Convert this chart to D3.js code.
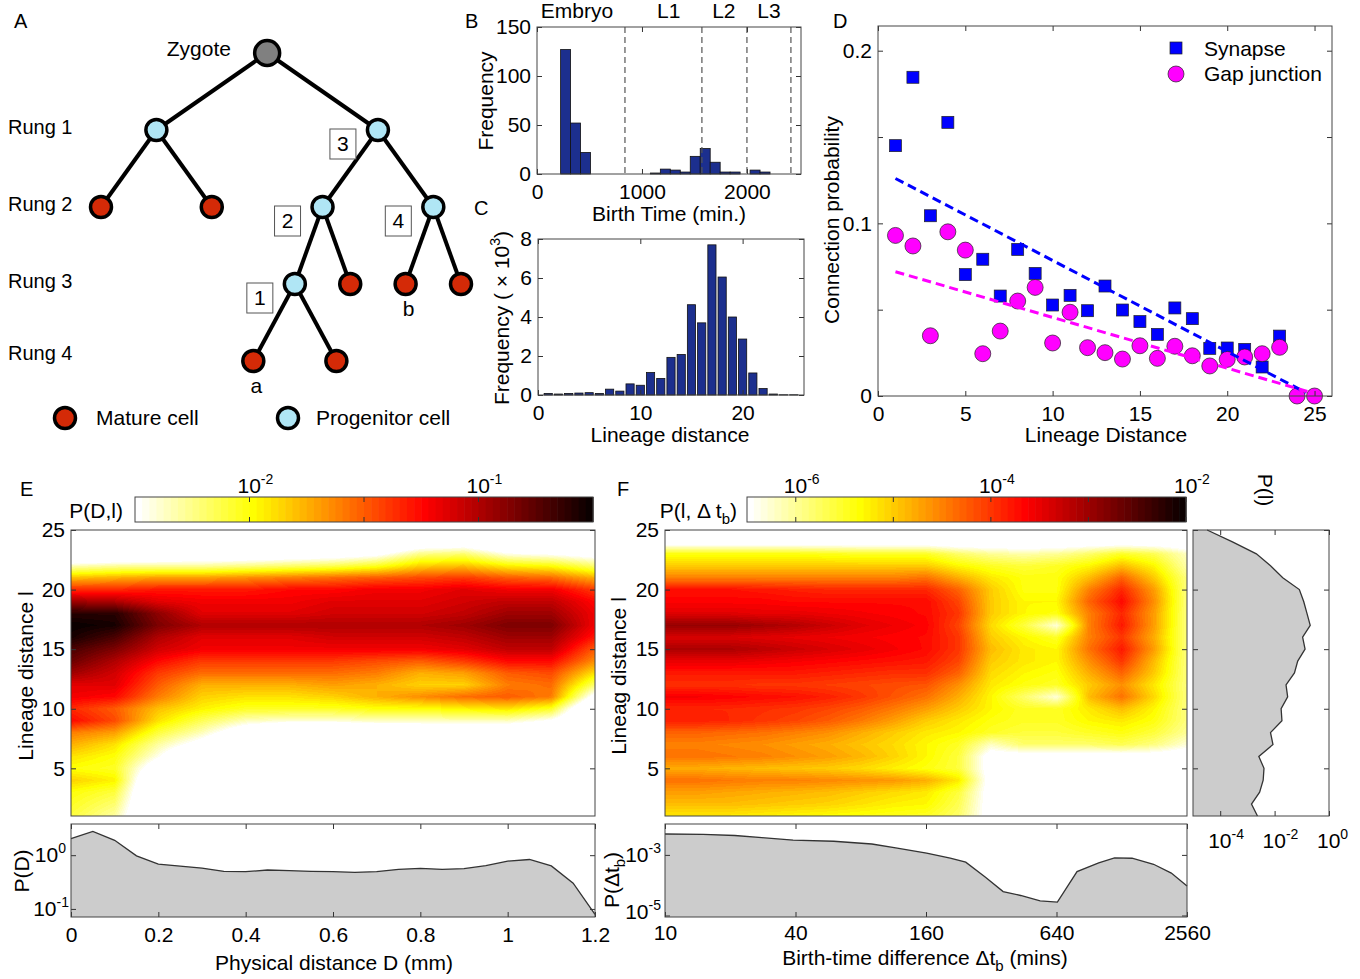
<!DOCTYPE html>
<html>
<head>
<meta charset="utf-8">
<title>Lineage distance and neural connectivity</title>
<script src="https://cdn.jsdelivr.net/npm/d3@7"></script>
<style>
  html, body { margin: 0; padding: 0; background: #fff; }
  svg { display: block; font-family: "Liberation Sans", Arial, Helvetica, sans-serif; }
  text { fill: #000; }
</style>
</head>
<body>
<svg id="fig" width="1360" height="979"></svg>
<script>
// ================= Data =================

// A: lineage tree. Leaves carry a horizontal slot; parents sit midway between children.
const lineageTree = { kind: "zygote", children: [
  { kind: "progenitor", children: [ { kind: "mature", slot: 0 }, { kind: "mature", slot: 2 } ] },
  { kind: "progenitor", step: "3", children: [
    { kind: "progenitor", step: "2", children: [
      { kind: "progenitor", step: "1", children: [ { kind: "mature", slot: 2.75, tag: "a" }, { kind: "mature", slot: 4.25 } ] },
      { kind: "mature", slot: 4.5 } ] },
    { kind: "progenitor", step: "4", children: [ { kind: "mature", slot: 5.5, tag: "b" }, { kind: "mature", slot: 6.5 } ] }
  ] }
] };
const rungLabels = ["Rung 1", "Rung 2", "Rung 3", "Rung 4"];
const cellKinds = ["mature", "progenitor"];
const cellKindLabels = ["Mature cell", "Progenitor cell"];

// B: birth-time histogram (min.)
const birthBinStart = [225, 320, 415, 510, 605, 700, 795, 890, 985, 1080, 1175, 1270, 1365, 1460, 1555, 1650, 1745, 1840, 1935, 2030, 2125];
const birthBinWidth = 95;
const birthCounts = [127, 52, 22, 0, 0, 0, 0, 0, 0, 1, 5, 4, 2, 18, 26, 12, 2, 2, 0, 4, 2];
const stageBounds = [838, 1571, 2000, 2419];
const stageNames = ["Embryo", "L1", "L2", "L3"];
const stageLabelAt = [380, 1255, 1780, 2210];

// C: lineage-distance histogram (thousands of pairs)
const lineageDist = [1, 2, 3, 4, 5, 6, 7, 8, 9, 10, 11, 12, 13, 14, 15, 16, 17, 18, 19, 20, 21, 22, 23, 24, 25];
const lineageFreqK = [0.08, 0.05, 0.08, 0.1, 0.12, 0.08, 0.3, 0.2, 0.57, 0.5, 1.15, 0.85, 1.93, 2.08, 4.63, 3.7, 7.7, 6.05, 4.0, 2.87, 1.13, 0.33, 0.05, 0.01, 0.01];

// D: connection probability vs lineage distance
const synapseDist = [1, 2, 3, 4, 5, 6, 7, 8, 9, 10, 11, 12, 13, 14, 15, 16, 17, 18, 19, 20, 21, 22, 23];
const synapseProb = [0.145, 0.1846, 0.1044, 0.1585, 0.0703, 0.0792, 0.0579, 0.0849, 0.071, 0.0527, 0.0583, 0.0494, 0.0637, 0.0498, 0.0431, 0.0357, 0.051, 0.0448, 0.0276, 0.0278, 0.027, 0.0168, 0.0347];
const gapDist = [1, 2, 3, 4, 5, 6, 7, 8, 9, 10, 11, 12, 13, 14, 15, 16, 17, 18, 19, 20, 21, 22, 23, 24, 25];
const gapProb = [0.093, 0.0869, 0.0349, 0.0951, 0.0845, 0.0245, 0.0376, 0.055, 0.0629, 0.0307, 0.0485, 0.028, 0.0251, 0.0214, 0.0291, 0.0218, 0.0288, 0.0233, 0.0174, 0.0212, 0.0226, 0.0245, 0.0282, 0, 0];
const synapseFit = [[1, 0.126], [24.5, 0.002]];
const gapFit = [[1, 0.072], [24.8, 0.002]];

// E: joint density P(D,l), log10 values; rows l = 25 ... 1, columns D (mm)
const physDistNodes = [0, 0.1, 0.2, 0.3, 0.4, 0.5, 0.6, 0.7, 0.8, 0.9, 1.0, 1.1, 1.2];
const lineageRowsDown = [25, 24, 23, 22, 21, 20, 19, 18, 17, 16, 15, 14, 13, 12, 11, 10, 9, 8, 7, 6, 5, 4, 3, 2, 1];
const pDlLog10 = [
  [-3, -3, -3, -3, -3, -3, -3, -3, -3, -3, -3, -3, -3],
  [-3, -3, -3, -3, -3, -3, -3, -2.95, -2.75, -2.7, -2.9, -3, -3],
  [-3, -2.9, -2.8, -2.75, -2.75, -2.7, -2.65, -2.55, -2.25, -2.2, -2.45, -2.5, -2.6],
  [-2.35, -2.3, -2.3, -2.3, -2.25, -2.2, -2.15, -2.05, -1.85, -1.8, -1.95, -2.0, -2.2],
  [-1.8, -1.75, -1.7, -1.7, -1.65, -1.6, -1.55, -1.5, -1.45, -1.4, -1.5, -1.55, -1.75],
  [-1.35, -1.35, -1.3, -1.3, -1.3, -1.25, -1.25, -1.2, -1.2, -1.15, -1.2, -1.2, -1.4],
  [-0.95, -1.0, -1.15, -1.2, -1.2, -1.2, -1.15, -1.15, -1.15, -1.1, -1.05, -1.05, -1.25],
  [-0.6, -0.6, -0.9, -1.15, -1.15, -1.15, -1.1, -1.1, -1.1, -1.05, -0.95, -0.95, -1.2],
  [-0.5, -0.55, -0.85, -1.0, -1.0, -1.0, -1.0, -1.0, -1.0, -0.95, -0.85, -0.85, -1.2],
  [-0.55, -0.7, -1.0, -1.15, -1.15, -1.15, -1.1, -1.1, -1.1, -1.05, -0.95, -0.95, -1.3],
  [-0.7, -0.85, -1.1, -1.2, -1.2, -1.2, -1.2, -1.2, -1.2, -1.15, -1.05, -1.05, -1.5],
  [-0.8, -1.0, -1.25, -1.4, -1.4, -1.4, -1.4, -1.45, -1.5, -1.4, -1.25, -1.25, -1.65],
  [-0.95, -1.1, -1.4, -1.55, -1.55, -1.55, -1.55, -1.6, -1.75, -1.7, -1.5, -1.45, -1.9],
  [-1.15, -1.15, -1.5, -1.75, -1.75, -1.75, -1.7, -1.75, -1.85, -1.85, -1.6, -1.55, -2.2],
  [-1.2, -1.25, -1.6, -1.85, -1.9, -1.9, -1.85, -1.75, -1.65, -1.55, -1.5, -1.6, -2.6],
  [-1.35, -1.5, -1.8, -1.95, -2.05, -2.05, -2.05, -2.0, -2.0, -1.95, -1.9, -2.05, -3],
  [-1.25, -1.45, -1.9, -2.15, -2.35, -2.4, -2.4, -2.35, -2.35, -2.35, -2.35, -2.5, -3],
  [-1.6, -1.7, -2.1, -2.35, -2.7, -3, -3, -2.9, -2.85, -2.8, -2.8, -2.9, -3],
  [-1.75, -1.9, -2.3, -2.6, -3, -3, -3, -3, -3, -3, -3, -3, -3],
  [-1.9, -2.0, -2.45, -3, -3, -3, -3, -3, -3, -3, -3, -3, -3],
  [-2.0, -2.05, -2.7, -3, -3, -3, -3, -3, -3, -3, -3, -3, -3],
  [-1.85, -1.95, -3, -3, -3, -3, -3, -3, -3, -3, -3, -3, -3],
  [-2.0, -2.1, -3, -3, -3, -3, -3, -3, -3, -3, -3, -3, -3],
  [-2.05, -2.2, -3, -3, -3, -3, -3, -3, -3, -3, -3, -3, -3],
  [-2.1, -2.3, -3, -3, -3, -3, -3, -3, -3, -3, -3, -3, -3]
];
// E lower: marginal P(D)
const physDistSamples = [0, 0.05, 0.1, 0.15, 0.2, 0.25, 0.3, 0.35, 0.4, 0.45, 0.5, 0.55, 0.6, 0.65, 0.7, 0.75, 0.8, 0.85, 0.9, 0.95, 1.0, 1.05, 1.1, 1.15, 1.2];
const pDLog10 = [0.307, 0.442, 0.276, -0.012, -0.166, -0.202, -0.239, -0.3, -0.307, -0.276, -0.288, -0.3, -0.307, -0.319, -0.307, -0.264, -0.245, -0.264, -0.252, -0.196, -0.11, -0.08, -0.2, -0.52, -1.1];

// F: joint density P(l, dt_b), log10 values; rows l = 25 ... 1, columns birth-time difference (mins)
const dtNodes = [10, 14.1, 20, 28.3, 40, 56.6, 80, 113, 160, 226, 320, 453, 640, 905, 1280, 1810, 2560];
const pLdtLog10 = [
  [-7, -7, -7, -7, -7, -7, -7, -7, -7, -7, -7, -7, -7, -7, -7, -7, -7],
  [-6.8, -6.8, -6.8, -6.8, -6.8, -6.8, -6.8, -6.8, -6.8, -6.9, -6.9, -6.9, -6.9, -6.8, -6.8, -6.8, -6.9],
  [-5.4, -5.4, -5.4, -5.4, -5.4, -5.45, -5.5, -5.5, -5.5, -5.8, -6.0, -6.1, -6.0, -5.8, -5.5, -5.7, -6.2],
  [-5.0, -5.0, -5.0, -5.0, -5.0, -5.0, -5.0, -5.0, -5.0, -5.3, -5.5, -5.6, -5.5, -5.3, -4.9, -5.3, -6.1],
  [-4.5, -4.5, -4.5, -4.5, -4.5, -4.5, -4.5, -4.5, -4.4, -4.8, -5.2, -5.4, -5.4, -4.9, -4.3, -5.0, -5.9],
  [-3.75, -3.75, -3.75, -3.8, -3.85, -3.9, -3.9, -3.9, -3.9, -4.3, -5.0, -5.4, -5.4, -4.5, -3.9, -4.7, -5.9],
  [-3.65, -3.65, -3.65, -3.65, -3.7, -3.7, -3.7, -3.7, -3.7, -4.1, -5.0, -5.3, -5.3, -4.3, -3.7, -4.6, -5.9],
  [-3.45, -3.45, -3.45, -3.5, -3.5, -3.55, -3.6, -3.65, -3.7, -4.0, -5.0, -5.3, -5.4, -4.5, -3.9, -4.7, -5.9],
  [-2.95, -2.95, -2.95, -3.05, -3.15, -3.3, -3.45, -3.55, -3.65, -4.1, -5.1, -5.6, -6.3, -4.5, -3.8, -4.7, -5.9],
  [-3.4, -3.4, -3.4, -3.45, -3.5, -3.55, -3.6, -3.65, -3.7, -4.0, -5.0, -5.3, -5.5, -4.5, -4.0, -4.8, -5.9],
  [-3.1, -3.1, -3.1, -3.2, -3.3, -3.4, -3.5, -3.6, -3.7, -4.0, -4.9, -5.2, -5.3, -4.4, -3.8, -4.7, -5.9],
  [-3.5, -3.5, -3.5, -3.55, -3.6, -3.65, -3.7, -3.75, -3.8, -4.1, -5.0, -5.2, -5.3, -4.6, -4.0, -4.9, -5.9],
  [-3.8, -3.8, -3.8, -3.8, -3.8, -3.85, -3.9, -3.95, -3.95, -4.3, -5.1, -5.3, -5.4, -4.8, -4.3, -5.0, -5.9],
  [-3.95, -3.95, -3.95, -4.0, -4.0, -4.05, -4.1, -4.15, -4.2, -4.6, -5.2, -5.4, -5.5, -5.0, -4.6, -5.2, -5.9],
  [-3.6, -3.6, -3.65, -3.7, -3.75, -3.85, -4.0, -4.2, -4.4, -4.8, -5.3, -5.8, -6.3, -4.9, -4.4, -5.1, -5.9],
  [-3.9, -3.9, -3.9, -3.95, -4.0, -4.1, -4.25, -4.45, -4.7, -5.0, -5.3, -5.5, -5.5, -5.2, -4.9, -5.3, -5.9],
  [-3.85, -3.85, -3.9, -4.0, -4.1, -4.25, -4.45, -4.7, -5.0, -5.2, -5.4, -5.5, -5.5, -5.3, -5.2, -5.4, -5.9],
  [-4.3, -4.3, -4.35, -4.4, -4.5, -4.6, -4.8, -5.0, -5.2, -5.3, -5.5, -5.6, -5.6, -5.5, -5.4, -5.6, -6.0],
  [-4.5, -4.5, -4.55, -4.6, -4.7, -4.8, -4.95, -5.1, -5.3, -5.5, -6.2, -5.8, -5.8, -5.8, -5.7, -5.9, -6.3],
  [-4.4, -4.4, -4.45, -4.5, -4.6, -4.7, -4.85, -5.05, -5.3, -5.6, -6.7, -6.7, -6.7, -6.7, -6.7, -6.7, -6.8],
  [-4.8, -4.8, -4.85, -4.9, -4.95, -5.0, -5.1, -5.25, -5.4, -5.6, -6.7, -7, -7, -7, -7, -7, -7],
  [-4.4, -4.4, -4.45, -4.5, -4.5, -4.55, -4.6, -4.65, -4.8, -5.2, -6.7, -7, -7, -7, -7, -7, -7],
  [-4.7, -4.7, -4.75, -4.8, -4.85, -4.9, -5.0, -5.1, -5.2, -5.6, -6.7, -7, -7, -7, -7, -7, -7],
  [-4.9, -4.9, -4.9, -4.95, -5.0, -5.05, -5.15, -5.25, -5.3, -5.7, -6.7, -7, -7, -7, -7, -7, -7],
  [-5.2, -5.2, -5.2, -5.25, -5.3, -5.35, -5.4, -5.45, -5.5, -5.8, -6.7, -7, -7, -7, -7, -7, -7]
];
// F lower: marginal P(dt_b)
const dtSamples = [10, 15, 21, 28, 39, 60, 90, 116, 161, 207, 244, 301, 363, 437, 538, 646, 796, 1002, 1186, 1428, 1795, 2167, 2560];
const pDtLog10 = [-2.31, -2.32, -2.36, -2.43, -2.51, -2.55, -2.64, -2.77, -2.94, -3.11, -3.24, -3.74, -4.21, -4.34, -4.52, -4.56, -3.55, -3.26, -3.10, -3.11, -3.31, -3.60, -4.03];
// F side: marginal P(l), l = 1 ... 25
const pLLog10 = [-2.63, -2.85, -2.55, -2.42, -2.39, -2.58, -2.06, -2.15, -1.73, -1.76, -1.52, -1.58, -1.27, -1.15, -0.88, -0.97, -0.69, -0.81, -0.93, -1.09, -1.7, -2.15, -2.67, -3.55, -4.48];

// Tick sets
const birthTicks = [0, 1000, 2000];
const birthFreqTicks = [0, 50, 100, 150];
const lineageTicksC = [0, 10, 20];
const freqKTicks = [0, 2, 4, 6, 8];
const lineageTicksD = [0, 5, 10, 15, 20, 25];
const probTicks = [0, 0.05, 0.1, 0.15, 0.2];
const lineageTicksHeat = [5, 10, 15, 20, 25];
const physTicks = [0, 0.2, 0.4, 0.6, 0.8, 1, 1.2];
const dtTicks = [10, 40, 160, 640, 2560];

// ================= Helpers =================
const svg = d3.select("#fig");
const FS = 21;
const SUP = 14;

// Reversed MATLAB "hot" colour map, 64 levels: white -> yellow -> red -> black
function hotReversed(m) {
  const n = Math.floor(3 * m / 8), out = [];
  for (let i = 0; i < m; i++) {
    const r = i < n ? (i + 1) / n : 1;
    const g = i < n ? 0 : (i < 2 * n ? (i - n + 1) / n : 1);
    const b = i < 2 * n ? 0 : (i - 2 * n + 1) / (m - 2 * n);
    out.push([r, g, b].map(v => Math.round(v * 255)));
  }
  return out.reverse();
}
const hot = hotReversed(64);
const rgbStr = c => `rgb(${c[0]},${c[1]},${c[2]})`;

function styleAxis(s) {
  s.attr("font-size", FS).attr("font-family", null);
  s.select(".domain").remove();
  s.selectAll(".tick line").attr("stroke", "#333");
  s.selectAll(".tick text").attr("fill", "#000");
}

// Boxed axes with ticks pointing inwards on all four sides
function boxAxes(g, x, y, o) {
  const [xl, xr] = x.range(), [yb, yt] = y.range();
  const xt = o.xTicks || [], yt2 = o.yTicks || [];
  const fx = o.xFormat === undefined ? (d => d) : o.xFormat;
  const fy = o.yFormat === undefined ? (d => d) : o.yFormat;
  styleAxis(g.append("g").attr("transform", `translate(0,${yb})`)
    .call(d3.axisBottom(x).tickValues(xt).tickFormat(fx).tickSizeInner(-5).tickSizeOuter(0).tickPadding(o.xPad || 10)));
  styleAxis(g.append("g").attr("transform", `translate(0,${yt})`)
    .call(d3.axisTop(x).tickValues(xt).tickFormat("").tickSizeInner(-5).tickSizeOuter(0)));
  styleAxis(g.append("g").attr("transform", `translate(${xl},0)`)
    .call(d3.axisLeft(y).tickValues(yt2).tickFormat(fy).tickSizeInner(-5).tickSizeOuter(0).tickPadding(o.yPad || 6)));
  styleAxis(g.append("g").attr("transform", `translate(${xr},0)`)
    .call(d3.axisRight(y).tickValues(yt2).tickFormat("").tickSizeInner(-5).tickSizeOuter(0)));
  g.append("rect").attr("x", xl).attr("y", yt).attr("width", xr - xl).attr("height", yb - yt)
    .attr("fill", "none").attr("stroke", "#444").attr("stroke-width", 1);
}

// "10" with a raised exponent; mode "mid" centres the base on x, "end" right-aligns the whole label
function powLabel(g, x, y, exp, mode) {
  const t = g.append("text").attr("y", y).attr("font-size", FS);
  if (mode === "end") t.attr("x", x).attr("text-anchor", "end");
  else t.attr("x", x - 12);
  t.append("tspan").text("10");
  t.append("tspan").attr("dy", -9).attr("font-size", SUP).text(exp);
  return t;
}

function plainText(g, x, y, str, anchor, size) {
  return g.append("text").attr("x", x).attr("y", y).attr("text-anchor", anchor || "start")
    .attr("font-size", size || FS).text(str);
}

function vText(g, x, y, angle) {
  return g.append("text").attr("transform", `translate(${x},${y}) rotate(${angle})`)
    .attr("text-anchor", "middle").attr("dy", "0.35em").attr("font-size", FS);
}

// Bilinear rendering of a gridded log-density onto an image
function paintField(g, xs, ys, colVals, rowVals, grid, cmap) {
  const x0 = xs.range()[0], x1 = xs.range()[1];
  const yTop = ys.range()[1], yBot = ys.range()[0];
  const w = Math.round(x1 - x0), h = Math.round(yBot - yTop);
  const colIdx = d3.scaleLinear().domain(colVals.map(v => xs(v))).range(d3.range(colVals.length)).clamp(true);
  const rowIdx = d3.scaleLinear().domain(rowVals.map(v => ys(v))).range(d3.range(rowVals.length)).clamp(true);
  const canvas = document.createElement("canvas");
  canvas.width = w; canvas.height = h;
  const ctx = canvas.getContext("2d");
  const im = ctx.createImageData(w, h);
  for (let j = 0; j < h; j++) {
    const fr = rowIdx(yTop + j + 0.5);
    const r0 = Math.min(Math.floor(fr), rowVals.length - 2), tr = fr - r0;
    for (let i = 0; i < w; i++) {
      const fc = colIdx(x0 + i + 0.5);
      const c0 = Math.min(Math.floor(fc), colVals.length - 2), tc = fc - c0;
      const v = (1 - tr) * ((1 - tc) * grid[r0][c0] + tc * grid[r0][c0 + 1]) +
                tr * ((1 - tc) * grid[r0 + 1][c0] + tc * grid[r0 + 1][c0 + 1]);
      const c = cmap(v), k = 4 * (j * w + i);
      im.data[k] = c[0]; im.data[k + 1] = c[1]; im.data[k + 2] = c[2]; im.data[k + 3] = 255;
    }
  }
  ctx.putImageData(im, 0, 0);
  g.append("image").attr("x", x0).attr("y", yTop).attr("width", w).attr("height", h)
    .attr("preserveAspectRatio", "none").attr("href", canvas.toDataURL());
}

function colorbar(g, cb, y0, h, tickVals, labelVals) {
  const n = hot.length, [lo, hi] = cb.domain();
  g.selectAll("rect.cbar").data(d3.range(n)).join("rect").attr("class", "cbar")
    .attr("x", i => cb(lo + (hi - lo) * i / n)).attr("y", y0)
    .attr("width", i => cb(lo + (hi - lo) * (i + 1) / n) - cb(lo + (hi - lo) * i / n) + 0.6)
    .attr("height", h).attr("fill", i => rgbStr(hot[i]));
  tickVals.forEach(t => {
    g.append("line").attr("x1", cb(t)).attr("x2", cb(t)).attr("y1", y0).attr("y2", y0 + 5).attr("stroke", "#333");
    g.append("line").attr("x1", cb(t)).attr("x2", cb(t)).attr("y1", y0 + h).attr("y2", y0 + h - 5).attr("stroke", "#333");
  });
  g.append("rect").attr("x", cb.range()[0]).attr("y", y0).attr("width", cb.range()[1] - cb.range()[0])
    .attr("height", h).attr("fill", "none").attr("stroke", "#444");
  labelVals.forEach(t => powLabel(g, cb(t), y0 - 4, String(t), "mid"));
}

// ================= Panel A: lineage tree =================
const gA = svg.append("g");
const cellFill = { zygote: "#808080", progenitor: "#b0e6f5", mature: "#d42a07" };
const root = d3.hierarchy(lineageTree);
root.eachAfter(n => { if (n.children) n.data.slot = d3.mean(n.children, c => c.data.slot); });
const treeX = d3.scaleLinear().domain([0, 6.5]).range([101, 461]);
const treeY = d3.scaleLinear().domain([0, 4]).range([53, 361]);

gA.selectAll("line.edge").data(root.links()).join("line").attr("class", "edge")
  .attr("x1", d => treeX(d.source.data.slot)).attr("y1", d => treeY(d.source.depth))
  .attr("x2", d => treeX(d.target.data.slot)).attr("y2", d => treeY(d.target.depth))
  .attr("stroke", "#000").attr("stroke-width", 4);
gA.selectAll("circle.cell").data(root.descendants()).join("circle").attr("class", "cell")
  .attr("cx", d => treeX(d.data.slot)).attr("cy", d => treeY(d.depth))
  .attr("r", d => d.depth === 0 ? 12.5 : 10.5)
  .attr("fill", d => cellFill[d.data.kind]).attr("stroke", "#000").attr("stroke-width", 3.5);

root.descendants().filter(d => d.data.step).forEach(d => {
  const cx = treeX(d.data.slot) - 35, cy = treeY(d.depth) + 14;
  gA.append("rect").attr("x", cx - 13).attr("y", cy - 15).attr("width", 26).attr("height", 30)
    .attr("fill", "#fff").attr("stroke", "#555").attr("stroke-width", 1);
  plainText(gA, cx, cy + 7, d.data.step, "middle");
});
root.descendants().filter(d => d.data.tag).forEach(d => {
  plainText(gA, treeX(d.data.slot) + 3, treeY(d.depth) + 32, d.data.tag, "middle");
});
rungLabels.forEach((lab, i) => plainText(gA, 8, treeY(i + 1) + (i === 3 ? -1 : 4), lab, "start", 20));
plainText(gA, 231, treeY(0) + 3, "Zygote", "end");
plainText(gA, 14, 28, "A", "start", 20);

const legendA = d3.scalePoint().domain(cellKinds).range([65, 288]);
cellKinds.forEach((k, i) => {
  gA.append("circle").attr("cx", legendA(k)).attr("cy", 418).attr("r", 10.5)
    .attr("fill", cellFill[k]).attr("stroke", "#000").attr("stroke-width", 3.5);
  plainText(gA, legendA(k) + (i === 0 ? 31 : 28), 425, cellKindLabels[i], "start");
});

// ================= Panel B: birth times =================
const gB = svg.append("g");
const bx = d3.scaleLinear().domain([0, 2515]).range([537, 801]);
const by = d3.scaleLinear().domain([0, 150]).range([174, 27]);
gB.selectAll("rect.bar").data(birthBinStart.map((s, i) => ({ s, c: birthCounts[i] })).filter(d => d.c > 0))
  .join("rect").attr("class", "bar")
  .attr("x", d => bx(d.s)).attr("width", d => bx(d.s + birthBinWidth) - bx(d.s))
  .attr("y", d => by(d.c)).attr("height", d => by(0) - by(d.c))
  .attr("fill", "#1c2f8e").attr("stroke", "#111").attr("stroke-width", 0.8);
stageBounds.forEach(b => {
  gB.append("line").attr("x1", bx(b)).attr("x2", bx(b)).attr("y1", by(150)).attr("y2", by(0))
    .attr("stroke", "#555").attr("stroke-width", 1.2).attr("stroke-dasharray", "6,4");
});
stageNames.forEach((s, i) => plainText(gB, bx(stageLabelAt[i]), 18, s, "middle"));
boxAxes(gB, bx, by, { xTicks: birthTicks, yTicks: birthFreqTicks });
vText(gB, 486, 101, -90).text("Frequency");
plainText(gB, 669, 221, "Birth Time (min.)", "middle");
plainText(gB, 465, 28, "B", "start", 20);

// ================= Panel C: lineage distance histogram =================
const gC = svg.append("g");
const cxs = d3.scaleLinear().domain([0, 26]).range([538, 804]);
const cys = d3.scaleLinear().domain([0, 8]).range([395, 239]);
gC.selectAll("rect.bar").data(lineageDist.map((l, i) => ({ l, f: lineageFreqK[i] })))
  .join("rect").attr("class", "bar")
  .attr("x", d => cxs(d.l - 0.4)).attr("width", d => cxs(d.l + 0.4) - cxs(d.l - 0.4))
  .attr("y", d => cys(d.f)).attr("height", d => cys(0) - cys(d.f))
  .attr("fill", "#1c2f8e").attr("stroke", "#111").attr("stroke-width", 0.8);
boxAxes(gC, cxs, cys, { xTicks: lineageTicksC, yTicks: freqKTicks });
{
  const t = vText(gC, 502, 318, -90);
  t.append("tspan").text("Frequency ( \u00d7 10");
  t.append("tspan").attr("dy", -9).attr("font-size", SUP).text("3");
  t.append("tspan").attr("dy", 9).text(")");
}
plainText(gC, 670, 442, "Lineage distance", "middle");
plainText(gC, 474, 215, "C", "start", 20);

// ================= Panel D: connection probability =================
const gD = svg.append("g");
const dxs = d3.scaleLinear().domain([0, 26]).range([878, 1332]);
const dys = d3.scaleLinear().domain([0, 0.2143]).range([396, 26]);
gD.selectAll("rect.syn").data(synapseDist.map((x, i) => ({ x, p: synapseProb[i] })))
  .join("rect").attr("class", "syn")
  .attr("x", d => dxs(d.x) - 6).attr("y", d => dys(d.p) - 6).attr("width", 12).attr("height", 12)
  .attr("fill", "#0000ff").attr("stroke", "#222").attr("stroke-width", 0.7);
gD.selectAll("circle.gap").data(gapDist.map((x, i) => ({ x, p: gapProb[i] })))
  .join("circle").attr("class", "gap")
  .attr("cx", d => dxs(d.x)).attr("cy", d => dys(d.p)).attr("r", 8)
  .attr("fill", "#ff00ff").attr("stroke", "#222").attr("stroke-width", 0.7);
const fitLine = d3.line().x(d => dxs(d[0])).y(d => dys(d[1]));
gD.append("path").attr("d", fitLine(synapseFit)).attr("fill", "none").attr("stroke", "#0000ff")
  .attr("stroke-width", 3).attr("stroke-dasharray", "9,5");
gD.append("path").attr("d", fitLine(gapFit)).attr("fill", "none").attr("stroke", "#ff00ff")
  .attr("stroke-width", 3).attr("stroke-dasharray", "9,5");
boxAxes(gD, dxs, dys, {
  xTicks: lineageTicksD, yTicks: probTicks,
  yFormat: d => (Math.round(d * 100) % 10 === 0 ? String(+d.toFixed(1)) : "")
});
gD.append("rect").attr("x", 1170).attr("y", 42).attr("width", 12).attr("height", 12)
  .attr("fill", "#0000ff").attr("stroke", "#222").attr("stroke-width", 0.7);
plainText(gD, 1204, 56, "Synapse", "start");
gD.append("circle").attr("cx", 1176).attr("cy", 74).attr("r", 8)
  .attr("fill", "#ff00ff").attr("stroke", "#222").attr("stroke-width", 0.7);
plainText(gD, 1204, 81, "Gap junction", "start");
vText(gD, 832, 220, -90).text("Connection probability");
plainText(gD, 1106, 442, "Lineage Distance", "middle");
plainText(gD, 833, 28, "D", "start", 20);

// ================= Panel E: P(D,l) =================
const gE = svg.append("g");
const ecb = d3.scaleLinear().domain([-2.5, -0.5]).range([135, 593]);
colorbar(gE, ecb, 497, 25, [-2, -1.5, -1], [-2, -1]);
plainText(gE, 123, 518, "P(D,l)", "end");
plainText(gE, 20, 496, "E", "start", 20);

const ex = d3.scaleLinear().domain([0, 1.2]).range([71, 595]);
const ely = d3.scaleLinear().domain([1, 25]).range([816, 530]);
const cmapE = d3.scaleQuantize().domain(ecb.domain()).range(hot);
paintField(gE, ex, ely, physDistNodes, lineageRowsDown, pDlLog10, cmapE);
boxAxes(gE, ex, ely, { xTicks: [], yTicks: lineageTicksHeat });
vText(gE, 26, 676, -90).text("Lineage distance l");

const eby = d3.scaleLog().domain([Math.pow(10, -1.15), Math.pow(10, 0.58)]).range([917, 824]);
const pDSeries = physDistSamples.map((d, i) => ({ d, p: Math.pow(10, pDLog10[i]) }));
gE.append("path").datum(pDSeries)
  .attr("d", d3.area().x(d => ex(d.d)).y0(eby.range()[0]).y1(d => eby(Math.max(d.p, eby.domain()[0]))))
  .attr("fill", "#cccccc");
gE.append("path").datum(pDSeries)
  .attr("d", d3.line().x(d => ex(d.d)).y(d => eby(Math.max(d.p, eby.domain()[0]))))
  .attr("fill", "none").attr("stroke", "#333").attr("stroke-width", 1.3);
boxAxes(gE, ex, eby, { xTicks: physTicks, yTicks: [1, 0.1], yFormat: "", xPad: 10 });
powLabel(gE, 66, eby(1) + 7, "0", "end");
powLabel(gE, 69, eby(0.1) + 7, "-1", "end");
vText(gE, 22, 871, -90).text("P(D)");
plainText(gE, 334, 970, "Physical distance D (mm)", "middle");

// ================= Panel F: P(l, dt_b) =================
const gF = svg.append("g");
const fcb = d3.scaleLinear().domain([-6.5, -2]).range([747, 1186]);
colorbar(gF, fcb, 497, 25, [-6, -5, -4, -3, -2], [-6, -4, -2]);
{
  const t = gF.append("text").attr("x", 737).attr("y", 518).attr("text-anchor", "end").attr("font-size", FS);
  t.append("tspan").text("P(l, \u0394 t");
  t.append("tspan").attr("dy", 6).attr("font-size", 15).text("b");
  t.append("tspan").attr("dy", -6).text(")");
}
plainText(gF, 617, 496, "F", "start", 20);

const fx = d3.scaleLog().base(2).domain([10, 2560]).range([665, 1187]);
const fly = d3.scaleLinear().domain([1, 25]).range([816, 530]);
const cmapF = d3.scaleQuantize().domain(fcb.domain()).range(hot);
paintField(gF, fx, fly, dtNodes, lineageRowsDown, pLdtLog10, cmapF);
boxAxes(gF, fx, fly, { xTicks: [], yTicks: lineageTicksHeat });
vText(gF, 619, 676, -90).text("Lineag distance l");

const fby = d3.scaleLog().domain([Math.pow(10, -5.05), Math.pow(10, -1.98)]).range([917, 824]);
const pDtSeries = dtSamples.map((t, i) => ({ t, p: Math.pow(10, pDtLog10[i]) }));
gF.append("path").datum(pDtSeries)
  .attr("d", d3.area().x(d => fx(d.t)).y0(fby.range()[0]).y1(d => fby(d.p)))
  .attr("fill", "#cccccc");
gF.append("path").datum(pDtSeries)
  .attr("d", d3.line().x(d => fx(d.t)).y(d => fby(d.p)))
  .attr("fill", "none").attr("stroke", "#333").attr("stroke-width", 1.3);
boxAxes(gF, fx, fby, { xTicks: dtTicks, yTicks: [1e-3, 1e-5], yFormat: "", xFormat: d => d, xPad: 8 });
powLabel(gF, 661, fby(1e-3) + 7, "-3", "end");
powLabel(gF, 661, fby(1e-5) + 4, "-5", "end");
{
  const t = vText(gF, 612, 880, -90);
  t.append("tspan").text("P(\u0394t");
  t.append("tspan").attr("dy", 6).attr("font-size", 15).text("b");
  t.append("tspan").attr("dy", -6).text(")");
}
{
  const t = gF.append("text").attr("x", 925).attr("y", 965).attr("text-anchor", "middle").attr("font-size", FS);
  t.append("tspan").text("Birth-time difference \u0394t");
  t.append("tspan").attr("dy", 6).attr("font-size", 15).text("b");
  t.append("tspan").attr("dy", -6).text(" (mins)");
}

// Side marginal P(l)
const sx = d3.scaleLog().domain([1e-5, 1]).range([1193, 1329]);
const sy = d3.scaleLinear().domain([1, 25]).range([816, 530]);
const pLSeries = lineageDist.map((l, i) => ({ l, p: Math.pow(10, pLLog10[i]) }));
gF.append("path").datum(pLSeries)
  .attr("d", d3.area().y(d => sy(d.l)).x0(sx.range()[0]).x1(d => sx(d.p)))
  .attr("fill", "#cccccc");
gF.append("path").datum(pLSeries)
  .attr("d", d3.line().y(d => sy(d.l)).x(d => sx(d.p)))
  .attr("fill", "none").attr("stroke", "#333").attr("stroke-width", 1.3);
boxAxes(gF, sx, sy, { xTicks: [1e-4, 1e-2, 1], yTicks: lineageTicksHeat, xFormat: "", yFormat: "" });
powLabel(gF, sx(1e-4), 848, "-4", "mid");
powLabel(gF, sx(1e-2), 848, "-2", "mid");
powLabel(gF, sx(1), 848, "0", "mid");
vText(gF, 1265, 490, 90).text("P(l)");
</script>
</body>
</html>
